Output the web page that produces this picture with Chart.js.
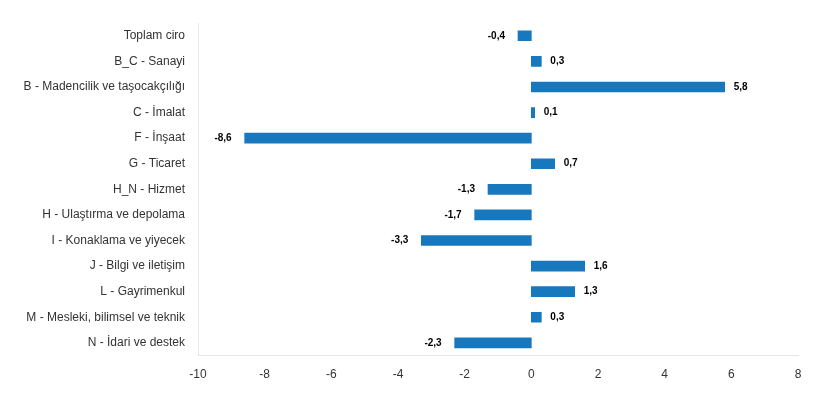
<!DOCTYPE html>
<html>
<head>
<meta charset="utf-8">
<script src="https://cdn.jsdelivr.net/npm/chart.js@4"></script>
<style>
  html, body { margin: 0; padding: 0; background: #fff; }
  #wrap { width: 820px; height: 400px; }
</style>
</head>
<body>
<div id="wrap"><canvas id="grafico"></canvas></div>
<script>
// Sektörler ve değişim oranları (%)
const sektorler = [
    'Toplam ciro',
    'B_C - Sanayi',
    'B - Madencilik ve taşocakçılığı',
    'C - İmalat',
    'F - İnşaat',
    'G - Ticaret',
    'H_N - Hizmet',
    'H - Ulaştırma ve depolama',
    'I - Konaklama ve yiyecek',
    'J - Bilgi ve iletişim',
    'L - Gayrimenkul',
    'M - Mesleki, bilimsel ve teknik',
    'N - İdari ve destek'
];
const degerler = [-0.4, 0.3, 5.8, 0.1, -8.6, 0.7, -1.3, -1.7, -3.3, 1.6, 1.3, 0.3, -2.3];
const eksenMin = -10;
const eksenMax = 8;
const eksenAdim = 2;

const FONT = '"Liberation Sans", Arial, Helvetica, sans-serif';

// Barların ucuna değer etiketini yazan küçük eklenti
const degerEtiketi = {
    id: 'degerEtiketi',
    afterDatasetsDraw(chart) {
        const ctx = chart.ctx;
        const meta = chart.getDatasetMeta(0);
        ctx.save();
        ctx.font = 'bold 10px ' + FONT;
        ctx.fillStyle = '#000';
        ctx.textBaseline = 'middle';
        meta.data.forEach((bar, i) => {
            const v = degerler[i];
            const txt = v.toFixed(1).replace('.', ',');
            if (v >= 0) {
                ctx.textAlign = 'left';
                ctx.fillText(txt, bar.x + 9, bar.y);
            } else {
                ctx.textAlign = 'right';
                ctx.fillText(txt, bar.x - 13, bar.y);
            }
        });
        ctx.restore();
    }
};

new Chart(document.getElementById('grafico'), {
    type: 'bar',
    data: {
        labels: sektorler,
        datasets: [{
            data: degerler,
            backgroundColor: '#1878bd',
            borderWidth: 0,
            barThickness: 10
        }]
    },
    options: {
        indexAxis: 'y',
        responsive: true,
        maintainAspectRatio: false,
        animation: false,
        layout: { padding: { left: 18, right: 22, top: 23, bottom: 6 } },
        plugins: {
            legend: { display: false },
            tooltip: { enabled: false }
        },
        scales: {
            x: {
                min: eksenMin,
                max: eksenMax,
                ticks: {
                    stepSize: eksenAdim,
                    color: '#333',
                    font: { family: FONT, size: 12 },
                    padding: 12
                },
                grid: { display: false, drawTicks: false },
                border: { display: true, color: '#e6e6e6' }
            },
            y: {
                afterFit: (axis) => { axis.width = 180; },
                ticks: {
                    color: '#333',
                    font: { family: FONT, size: 12 },
                    padding: 13
                },
                grid: { display: false, drawTicks: false },
                border: { display: true, color: '#e6e6e6' }
            }
        }
    },
    plugins: [degerEtiketi]
});
</script>
</body>
</html>
